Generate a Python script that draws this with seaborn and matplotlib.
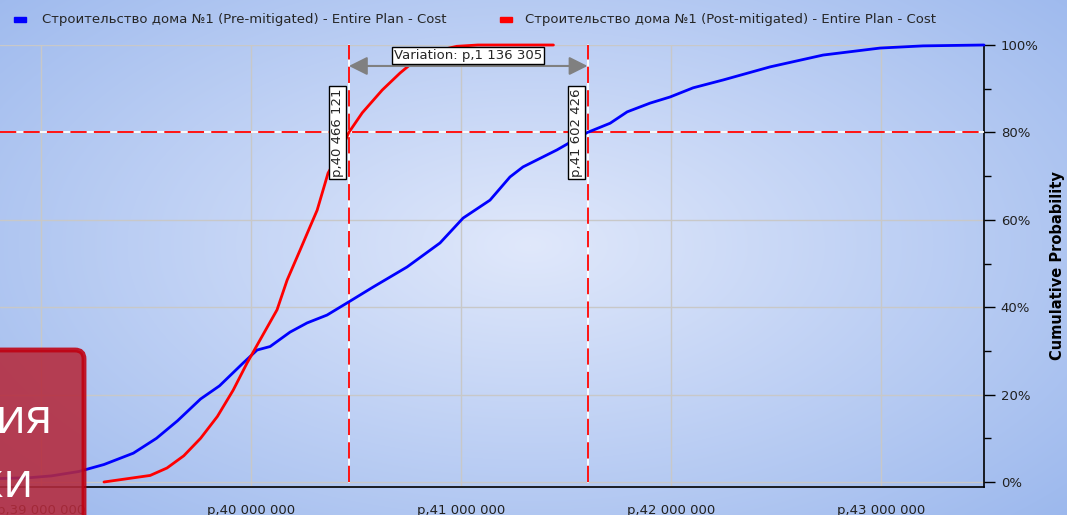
import numpy as np
import pandas as pd
import matplotlib
matplotlib.use("Agg")
import matplotlib.pyplot as plt
import seaborn as sns
from matplotlib.patches import FancyBboxPatch, Rectangle
from matplotlib.ticker import MultipleLocator, FuncFormatter

# Данные: кумулятивные кривые (x в млн. руб.)
pre_x = [38.805, 38.95, 39.05, 39.18, 39.30, 39.44, 39.55, 39.65, 39.76, 39.85, 39.962, 40.029,
         40.091, 40.186, 40.267, 40.362, 40.472, 40.581, 40.743, 40.900, 41.010, 41.138, 41.233,
         41.295, 41.457, 41.6024, 41.710, 41.791, 41.900, 41.995, 42.105, 42.248, 42.472,
         42.724, 42.995, 43.200, 43.49]
pre_p = [0.008, 0.010, 0.014, 0.024, 0.040, 0.066, 0.100, 0.140, 0.190, 0.220, 0.272, 0.302,
         0.310, 0.343, 0.364, 0.382, 0.414, 0.446, 0.492, 0.547, 0.604, 0.645, 0.698,
         0.721, 0.760, 0.800, 0.821, 0.847, 0.867, 0.881, 0.902, 0.920, 0.950,
         0.977, 0.993, 0.998, 1.000]
post_x = [39.30, 39.52, 39.60, 39.68, 39.76, 39.84, 39.915, 39.981, 40.043, 40.124, 40.172,
          40.234, 40.281, 40.315, 40.353, 40.367, 40.43, 40.466, 40.53, 40.625, 40.71, 40.77,
          40.87, 40.98, 41.08, 41.44]
post_p = [0.000, 0.015, 0.032, 0.060, 0.100, 0.150, 0.210, 0.272, 0.325, 0.394, 0.462,
          0.531, 0.584, 0.622, 0.684, 0.707, 0.760, 0.800, 0.845, 0.897, 0.936, 0.960,
          0.985, 0.997, 1.000, 1.000]

p80_post = 40.466121
p80_pre = 41.602426
variation = "Variation: p,1 136 305"
series_names = ["Строительство дома №1 (Pre-mitigated) - Entire Plan - Cost",
                "Строительство дома №1 (Post-mitigated) - Entire Plan - Cost"]
overlay_words = ["ия", "ки"]

sns.set_style("white")
plt.rcParams["font.family"] = ["Liberation Sans Narrow", "DejaVu Sans"]

W, H = 1067, 515
fig = plt.figure(figsize=(W / 100, H / 100), dpi=100)

# фон - радиальный градиент
bg = fig.add_axes([0, 0, 1, 1], zorder=-10)
yy, xx = np.mgrid[0:H, 0:W]
d = np.sqrt(((xx - 530) / 620.0) ** 2 + ((yy - 245) / 330.0) ** 2)
d = np.clip(d, 0, 1.3) / 1.3
c0 = np.array([224, 232, 251]) / 255.0
c1 = np.array([150, 180, 236]) / 255.0
img = c0[None, None, :] * (1 - d[..., None]) + c1[None, None, :] * d[..., None]
bg.imshow(img, aspect="auto", extent=[0, W, H, 0])
bg.set_axis_off()

ax = fig.add_axes([0, 28 / H, 984 / W, 442 / H])
ax.set_facecolor("none")

df_pre = pd.DataFrame({"x": pre_x, "p": pre_p})
df_post = pd.DataFrame({"x": post_x, "p": post_p})
sns.lineplot(data=df_pre, x="x", y="p", ax=ax, color="#0000ff", lw=2.0, sort=False,
             estimator=None, clip_on=False, zorder=5)
sns.lineplot(data=df_post, x="x", y="p", ax=ax, color="#ff0000", lw=2.0, sort=False,
             estimator=None, clip_on=False, zorder=5)

ax.set_xlim(38.805, 43.49)
ax.set_ylim(-5 / 437, 1.0)

ax.xaxis.set_major_locator(MultipleLocator(1))
ax.xaxis.set_minor_locator(MultipleLocator(0.5))
ax.yaxis.set_major_locator(MultipleLocator(0.2))
ax.yaxis.set_minor_locator(MultipleLocator(0.1))
ax.xaxis.set_major_formatter(FuncFormatter(
    lambda v, pos: "p," + format(int(round(v * 1e6)), ",").replace(",", " ")))
ax.yaxis.set_major_formatter(FuncFormatter(lambda v, pos: f"{int(round(v * 100))}%"))
ax.yaxis.tick_right()
ax.yaxis.set_label_position("right")
ax.grid(True, which="major", color="#c8c8c8", lw=1)
ax.tick_params(which="major", direction="out", length=8, width=1, color="black",
               labelsize=9.5, pad=4, labelcolor="#202020")
ax.tick_params(which="minor", direction="out", length=5, width=1, color="black")
for s in ["left", "top"]:
    ax.spines[s].set_visible(False)
for s in ["right", "bottom"]:
    ax.spines[s].set_color("black")
    ax.spines[s].set_linewidth(1.2)
ax.set_xlabel("")
ax.set_ylabel("Cumulative Probability", fontsize=10.5, fontweight="bold", labelpad=8,
              color="black")

# линии 80%
dash = (0, (9, 4))
ax.axhline(0.8, color="white", lw=1.3, zorder=3)
ax.axhline(0.8, color="#ff0000", lw=1.3, ls=dash, zorder=3)
for xv in [p80_post, p80_pre]:
    ax.plot([xv, xv], [0, 1], color="white", lw=1.3, zorder=3, clip_on=False)
    ax.plot([xv, xv], [0, 1], color="#ff0000", lw=1.3, ls=dash, zorder=3, clip_on=False)

# стрелка и подписи
ax.annotate("", xy=(p80_post, 0.952), xytext=(p80_pre, 0.952),
            arrowprops=dict(arrowstyle="<|-|>", color="#808080", lw=1.5, mutation_scale=28,
                            shrinkA=0, shrinkB=0),
            zorder=6)
ax.text((p80_post + p80_pre) / 2, 0.976, variation, ha="center", va="center", fontsize=9.5,
        bbox=dict(boxstyle="square,pad=0.15", fc="white", ec="black", lw=1), zorder=7)
for xv in [p80_post, p80_pre]:
    lab = "p," + format(int(round(xv * 1e6)), ",").replace(",", " ")
    ax.annotate(lab, xy=(xv, 0.80), xytext=(-8, 0), textcoords="offset points",
                rotation=90, ha="center", va="center", fontsize=9.5, zorder=7,
                bbox=dict(boxstyle="square,pad=0.15", fc="white", ec="black", lw=1))

# легенда
fig.patches.append(Rectangle((14, H - 22), 12, 5, transform=None, color="#0000ff", figure=fig))
fig.patches.append(Rectangle((500, H - 22), 12, 5, transform=None, color="#ff0000", figure=fig))
fig.text(42 / W, (H - 19) / H, series_names[0], ha="left", va="center", fontsize=9.5)
fig.text(525 / W, (H - 19) / H, series_names[1], ha="left", va="center", fontsize=9.5)

# красная плашка слева снизу
box = FancyBboxPatch((-20, -20), 104, 185, boxstyle="round,pad=0,rounding_size=9",
                     transform=None, fc="#b52a3c", ec="#c00010", lw=3.5, alpha=0.88,
                     figure=fig, zorder=20)
fig.patches.append(box)
fig.text(52 / W, 82 / H, overlay_words[0], ha="right", va="baseline", fontsize=34,
         color="white", family="Open Sans", zorder=21)
fig.text(33 / W, 18 / H, overlay_words[1], ha="right", va="baseline", fontsize=34,
         color="white", family="Open Sans", zorder=21)

fig.savefig("out.png", dpi=100)
